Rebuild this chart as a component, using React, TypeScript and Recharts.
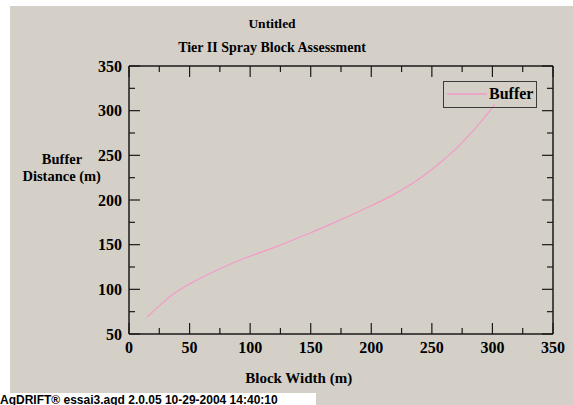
import React from 'react';
import { LineChart, Line, XAxis, YAxis, Legend } from 'recharts';

const blockWidth = [15, 27, 35, 52, 71, 96, 120, 145, 170, 199, 221, 240, 257, 268, 281, 292, 302];
const bufferDistance = [69, 84, 93, 107.5, 120.5, 135, 147, 160.5, 175, 193, 208, 224, 242, 255, 273, 290, 307];

const xMajorTicks = [0, 50, 100, 150, 200, 250, 300, 350];
const xMinorTicks = [25, 75, 125, 175, 225, 275, 325];
const yMajorTicks = [50, 100, 150, 200, 250, 300, 350];
const yMinorTicks = [75, 125, 175, 225, 275, 325];

const seriesName = 'Buffer';
const titleLines = ['Untitled', 'Tier II Spray Block Assessment'];
const xLabel = 'Block Width (m)';
const yLabelLines = ['Buffer', 'Distance (m)'];
const footer = 'AgDRIFT® essai3.agd 2.0.05 10-29-2004 14:40:10';

const data = blockWidth.map((x, i) => ({ x, y: bufferDistance[i] }));

const SERIF = '"Liberation Serif", "Times New Roman", serif';
const SANS = '"Liberation Sans", Arial, sans-serif';
const INK = '#1a1a1a';
const PINK = '#f49ac6';

const tickFont = { fill: '#000', fontSize: 16, fontWeight: 'bold', fontFamily: SERIF } as any;
const axisLineStyle = { stroke: INK, strokeWidth: 1.5 };
const tickLineStyle = { stroke: INK, strokeWidth: 1.2 };
const noLabel = () => <g />;
const THIN = 0.001;

const LegendBox = () => (
  <div
    style={{
      width: 94,
      height: 27,
      boxSizing: 'border-box',
      border: '1.5px solid #3a3a3a',
      position: 'relative',
      fontFamily: SERIF,
      fontWeight: 'bold',
      fontSize: 16,
    }}
  >
    <svg width={44} height={24} style={{ position: 'absolute', left: 1, top: 0 }}>
      <line x1={2} x2={42} y1={12} y2={12} stroke={PINK} strokeWidth={1.5} />
    </svg>
    <div style={{ position: 'absolute', left: 45, top: 4, lineHeight: '16px', color: '#000' }}>{seriesName}</div>
  </div>
);

export default function App() {
  return (
    <div style={{ position: 'absolute', left: 0, top: 0, width: 573, height: 405, background: '#fff', overflow: 'hidden' }}>
      <div style={{ position: 'absolute', left: 10, top: 6, width: 563, height: 399, background: '#d4d0c8' }} />
      <div style={{ position: 'absolute', left: 0, top: 393, width: 316, height: 12, background: '#fff' }} />
      <div style={{ position: 'absolute', left: 0, top: 0 }}>
        <LineChart width={573} height={405} data={data} margin={{ top: 66, right: 20, bottom: 41, left: 69 }}>
          <XAxis
            xAxisId="bl"
            dataKey="x"
            type="number"
            domain={[0, 350]}
            allowDataOverflow
            ticks={xMajorTicks}
            interval={0}
            orientation="bottom"
            height={30}
            tickLine={false}
            axisLine={false}
            tickSize={0}
            tickMargin={8}
            tick={tickFont}
          />
          <YAxis
            yAxisId="yl"
            type="number"
            domain={[50, 350]}
            allowDataOverflow
            ticks={yMajorTicks}
            interval={0}
            orientation="left"
            width={60}
            tickLine={false}
            axisLine={false}
            tickSize={0}
            tickMargin={7}
            tick={tickFont}
          />
          <XAxis xAxisId="bM" dataKey="x" type="number" domain={[0, 350]} allowDataOverflow ticks={xMajorTicks} interval={0} orientation="bottom" mirror height={THIN} tick={noLabel} tickSize={11} tickLine={tickLineStyle} axisLine={axisLineStyle} />
          <XAxis xAxisId="bm" dataKey="x" type="number" domain={[0, 350]} allowDataOverflow ticks={xMinorTicks} interval={0} orientation="bottom" mirror height={THIN} tick={noLabel} tickSize={6} tickLine={tickLineStyle} axisLine={false} />
          <XAxis xAxisId="tM" dataKey="x" type="number" domain={[0, 350]} allowDataOverflow ticks={xMajorTicks} interval={0} orientation="top" mirror height={THIN} tick={noLabel} tickSize={11} tickLine={tickLineStyle} axisLine={axisLineStyle} />
          <XAxis xAxisId="tm" dataKey="x" type="number" domain={[0, 350]} allowDataOverflow ticks={xMinorTicks} interval={0} orientation="top" mirror height={THIN} tick={noLabel} tickSize={6} tickLine={tickLineStyle} axisLine={false} />
          <YAxis yAxisId="lM" type="number" domain={[50, 350]} allowDataOverflow ticks={yMajorTicks} interval={0} orientation="left" mirror width={THIN} tick={noLabel} tickSize={11} tickLine={tickLineStyle} axisLine={axisLineStyle} />
          <YAxis yAxisId="lm" type="number" domain={[50, 350]} allowDataOverflow ticks={yMinorTicks} interval={0} orientation="left" mirror width={THIN} tick={noLabel} tickSize={6} tickLine={tickLineStyle} axisLine={false} />
          <YAxis yAxisId="rM" type="number" domain={[50, 350]} allowDataOverflow ticks={yMajorTicks} interval={0} orientation="right" mirror width={THIN} tick={noLabel} tickSize={11} tickLine={tickLineStyle} axisLine={axisLineStyle} />
          <YAxis yAxisId="rm" type="number" domain={[50, 350]} allowDataOverflow ticks={yMinorTicks} interval={0} orientation="right" mirror width={THIN} tick={noLabel} tickSize={6} tickLine={tickLineStyle} axisLine={false} />
          <Legend
            layout="horizontal"
            verticalAlign="middle"
            align="center"
            wrapperStyle={{ left: 443, top: 81, width: 94, height: 27 }}
            content={() => <LegendBox />}
          />
          <Line
            xAxisId="bl"
            yAxisId="yl"
            type="monotone"
            dataKey="y"
            name={seriesName}
            stroke={PINK}
            strokeWidth={1.2}
            dot={false}
            activeDot={false}
            isAnimationActive={false}
          />
        </LineChart>
      </div>
      <div style={{ position: 'absolute', left: 0, width: 544, top: 17, textAlign: 'center', fontFamily: SERIF, fontWeight: 'bold', fontSize: 13.5, lineHeight: '13.5px', color: '#000' }}>
        {titleLines[0]}
      </div>
      <div style={{ position: 'absolute', left: 0, width: 544, top: 40.5, textAlign: 'center', fontFamily: SERIF, fontWeight: 'bold', fontSize: 14, lineHeight: '14px', color: '#000' }}>
        {titleLines[1]}
      </div>
      <div style={{ position: 'absolute', left: 12, width: 100, top: 151.5, textAlign: 'center', fontFamily: SERIF, fontWeight: 'bold', fontSize: 14.5, lineHeight: '14.5px', color: '#000' }}>
        {yLabelLines[0]}
      </div>
      <div style={{ position: 'absolute', left: 11.7, width: 100, top: 168.5, textAlign: 'center', fontFamily: SERIF, fontWeight: 'bold', fontSize: 14.5, lineHeight: '14.5px', color: '#000', whiteSpace: 'nowrap' }}>
        {yLabelLines[1]}
      </div>
      <div style={{ position: 'absolute', left: 198.7, width: 200, top: 371, textAlign: 'center', fontFamily: SERIF, fontWeight: 'bold', fontSize: 15, lineHeight: '15px', color: '#000' }}>
        {xLabel}
      </div>
      <div style={{ position: 'absolute', left: 0, top: 394, fontFamily: SANS, fontWeight: 'bold', fontSize: 12, lineHeight: '12px', color: '#000', whiteSpace: 'nowrap' }}>
        {footer}
      </div>
    </div>
  );
}
